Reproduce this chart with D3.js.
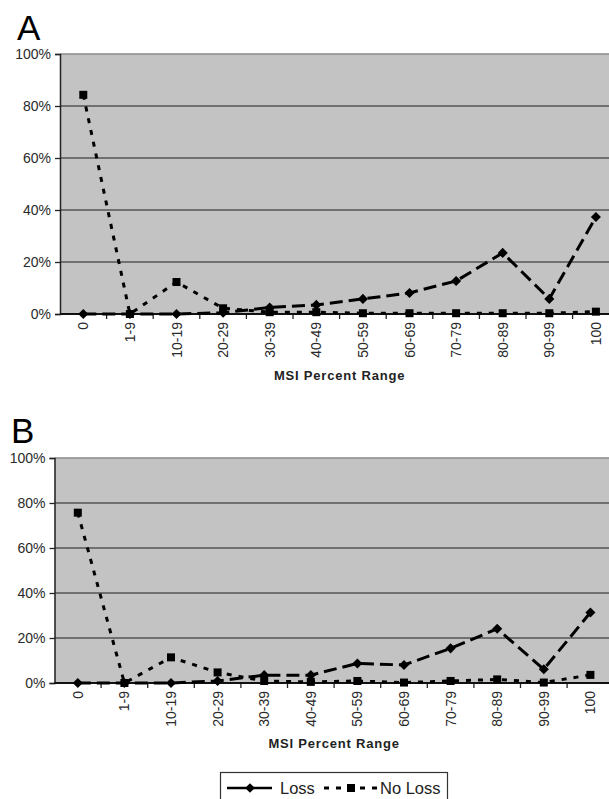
<!DOCTYPE html>
<html>
<head>
<meta charset="utf-8">
<script src="https://cdn.jsdelivr.net/npm/d3@7"></script>
<style>
  body { margin: 0; background: #fff; }
  svg { display: block; font-family: "Liberation Sans", Arial, sans-serif; }
</style>
</head>
<body>
<div class="container"></div>
<script>
// categories and values (fractions)
var ranges = ["0", "1-9", "10-19", "20-29", "30-39", "40-49", "50-59", "60-69", "70-79", "80-89", "90-99", "100"];
var yTicks = [0, 0.2, 0.4, 0.6, 0.8, 1];

var lossA   = [0, 0, 0, 0.005, 0.025, 0.035, 0.058, 0.081, 0.127, 0.235, 0.058, 0.373];
var noLossA = [0.843, 0, 0.123, 0.022, 0.007, 0.007, 0.003, 0.003, 0.003, 0.003, 0.003, 0.009];
var lossB   = [0, 0, 0, 0.009, 0.035, 0.035, 0.087, 0.080, 0.154, 0.241, 0.061, 0.313];
var noLossB = [0.757, 0, 0.114, 0.047, 0.009, 0.005, 0.009, 0.002, 0.009, 0.016, 0.002, 0.036];

var width = 609, height = 799;

var svg = d3.select("div.container").append("svg")
    .attr("width", width)
    .attr("height", height);

var panels = [
  {letter: "A", lx: 17, ly: 40, left: 60, top: 54, bottom: 314, titleY: 380, loss: lossA, noLoss: noLossA},
  {letter: "B", lx: 11, ly: 443, left: 54.5, top: 458, bottom: 683, titleY: 748, loss: lossB, noLoss: noLossB}
];

var band = 46.6;

panels.forEach(function(p) {
    var x = d3.scaleBand()
        .domain(ranges)
        .range([p.left, p.left + band * ranges.length])
        .padding(0);
    var y = d3.scaleLinear().domain([0, 1]).range([p.bottom, p.top]);
    var cx = function(d, i) { return x(ranges[i]) + x.bandwidth() / 2; };

    var g = svg.append("g");

    // panel letter
    g.append("text")
        .attr("x", p.lx).attr("y", p.ly)
        .attr("font-size", 35)
        .attr("fill", "#000")
        .text(p.letter);

    // plot background
    g.append("rect")
        .attr("x", p.left).attr("y", p.top)
        .attr("width", x.range()[1] - p.left)
        .attr("height", p.bottom - p.top)
        .attr("fill", "#c3c3c3");

    // gridlines
    g.selectAll(".grid")
        .data(yTicks.slice(1))
        .enter().append("line")
        .attr("x1", p.left).attr("x2", x.range()[1])
        .attr("y1", function(d) { return y(d); })
        .attr("y2", function(d) { return y(d); })
        .attr("stroke", function(d) { return d === 1 ? "#8a8a8a" : "#555"; })
        .attr("stroke-width", 1.3);

    // y axis
    var yAxis = d3.axisLeft(y)
        .tickValues(yTicks)
        .tickFormat(d3.format(".0%"))
        .tickSize(5)
        .tickPadding(4);
    var ya = g.append("g")
        .attr("transform", "translate(" + p.left + ",0)")
        .call(yAxis);
    ya.attr("font-size", null).attr("font-family", null);
    ya.select(".domain").attr("stroke", "#222").attr("stroke-width", 1.5);
    ya.selectAll(".tick line").attr("stroke", "#222").attr("stroke-width", 1.3);
    ya.selectAll(".tick text")
        .style("font-size", "14px")
        .attr("fill", "#2a2a2a");

    // x axis: ticks at category boundaries
    var boundaries = ranges.map(function(r) { return x(r); });
    g.selectAll(".xt")
        .data(boundaries.slice(1))
        .enter().append("line")
        .attr("x1", function(d) { return d; })
        .attr("x2", function(d) { return d; })
        .attr("y1", p.bottom).attr("y2", p.bottom + 5)
        .attr("stroke", "#222").attr("stroke-width", 1.3);

    g.append("line")
        .attr("x1", p.left).attr("x2", x.range()[1])
        .attr("y1", p.bottom).attr("y2", p.bottom)
        .attr("stroke", "#111").attr("stroke-width", 2);

    g.selectAll(".xl")
        .data(ranges)
        .enter().append("text")
        .attr("transform", function(d) {
            return "translate(" + (x(d) + x.bandwidth() / 2 + 5) + "," + (p.bottom + 8) + ") rotate(-90)";
        })
        .attr("text-anchor", "end")
        .style("font-size", "14px")
        .attr("fill", "#2a2a2a")
        .text(function(d) { return d; });

    g.append("text")
        .attr("x", (x.range()[0] + x.range()[1]) / 2)
        .attr("y", p.titleY)
        .attr("text-anchor", "middle")
        .attr("font-size", 13)
        .attr("font-weight", "bold")
        .attr("letter-spacing", 0.8)
        .attr("fill", "#222")
        .text("MSI Percent Range");

    // series lines
    var line = d3.line()
        .x(cx)
        .y(function(d) { return y(d); });

    g.append("path")
        .datum(p.noLoss)
        .attr("d", line)
        .attr("fill", "none")
        .attr("stroke", "#000")
        .attr("stroke-width", 3)
        .attr("stroke-dasharray", "5,7");

    g.append("path")
        .datum(p.loss)
        .attr("d", line)
        .attr("fill", "none")
        .attr("stroke", "#000")
        .attr("stroke-width", 3)
        .attr("stroke-dasharray", "13,6");

    // markers
    g.selectAll(".sq")
        .data(p.noLoss)
        .enter().append("rect")
        .attr("x", function(d, i) { return cx(d, i) - 4; })
        .attr("y", function(d) { return y(d) - 4; })
        .attr("width", 8).attr("height", 8)
        .attr("fill", "#000");

    g.selectAll(".dm")
        .data(p.loss)
        .enter().append("path")
        .attr("d", d3.symbol().type(d3.symbolDiamond2).size(65))
        .attr("transform", function(d, i) { return "translate(" + cx(d, i) + "," + y(d) + ")"; })
        .attr("fill", "#000");
});

// legend
var lg = svg.append("g");
lg.append("rect")
    .attr("x", 220.5).attr("y", 772.5)
    .attr("width", 227).attr("height", 40)
    .attr("fill", "#fff")
    .attr("stroke", "#333")
    .attr("stroke-width", 1.2);

lg.append("line")
    .attr("x1", 227).attr("x2", 272).attr("y1", 788).attr("y2", 788)
    .attr("stroke", "#000").attr("stroke-width", 2.5);
lg.append("path")
    .attr("d", d3.symbol().type(d3.symbolDiamond2).size(60))
    .attr("transform", "translate(250,788)")
    .attr("fill", "#000");
lg.append("text")
    .attr("x", 280).attr("y", 794)
    .attr("font-size", 16.5).attr("fill", "#222")
    .text("Loss");

lg.append("line")
    .attr("x1", 324).attr("x2", 378).attr("y1", 788).attr("y2", 788)
    .attr("stroke", "#000").attr("stroke-width", 3)
    .attr("stroke-dasharray", "5,7");
lg.append("rect")
    .attr("x", 347).attr("y", 784).attr("width", 8).attr("height", 8)
    .attr("fill", "#000");
lg.append("text")
    .attr("x", 380).attr("y", 794)
    .attr("font-size", 16.5).attr("fill", "#222")
    .text("No Loss");
</script>
</body>
</html>
